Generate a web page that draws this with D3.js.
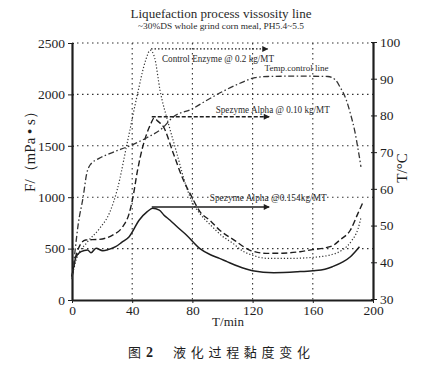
<!DOCTYPE html>
<html><head><meta charset="utf-8">
<script src="https://cdn.jsdelivr.net/npm/d3@7"></script>
<style>
html,body{margin:0;padding:0;background:#fff;}
svg{display:block;font-family:"Liberation Serif","DejaVu Serif",serif;}
</style></head>
<body><svg id="c" width="436" height="368"></svg>
<script>
// ---- data ----
const timeTicks = [0, 40, 80, 120, 160, 200];
const viscTicks = [0, 500, 1000, 1500, 2000, 2500];
const tempTicks = [30, 40, 50, 60, 70, 80, 90, 100];

const controlT = [0, 3, 10, 18, 25, 30, 37, 43.6, 49, 52, 55, 58.5, 64, 69.6, 76, 80, 85, 92, 100, 107, 113, 120, 130, 145, 160, 172, 180, 186, 190, 192];
const controlV = [230, 400, 560, 690, 850, 1070, 1550, 2010, 2335, 2430, 2350, 2040, 1720, 1430, 1100, 950, 840, 730, 620, 550, 480, 435, 405, 405, 415, 440, 490, 580, 690, 800];

const alpha10T = [0, 3, 9, 18, 27, 33.7, 38, 40.5, 43.6, 47, 49, 52.5, 54.5, 57, 60.7, 67.3, 74, 79.5, 85, 92, 98, 108, 118, 129, 140, 151.5, 160, 169, 174, 178, 185, 190, 193.5];
const alpha10V = [230, 450, 584, 590, 632, 713, 843, 1000, 1265, 1491, 1589, 1719, 1770, 1740, 1686, 1427, 1167, 1005, 859, 770, 681, 580, 486, 454, 455, 470, 490, 510, 535, 584, 681, 843, 956];

const alpha154T = [0, 2.7, 6, 10.4, 12.6, 16, 20.4, 24, 29, 33, 38, 44.7, 50, 53.6, 58, 61, 65, 70, 76, 85, 92, 98, 103, 110, 120, 134, 150, 160, 168, 173, 180, 185, 191];
const alpha154V = [227, 421, 470, 486, 460, 503, 480, 490, 519, 560, 616, 778, 859, 892, 875, 827, 778, 710, 632, 500, 440, 405, 373, 330, 285, 266, 275, 285, 300, 324, 370, 421, 518];

const tempT = [0, 2, 4, 7.5, 9.7, 12, 18, 25, 40, 50, 60, 67, 80, 89, 100, 113, 121.6, 130, 150, 170, 175, 178, 182, 185, 188, 190, 192];
const tempC = [35.4, 43, 50, 58, 64, 66.5, 68.3, 69.6, 72, 74, 76.5, 79.5, 81.8, 84, 86.5, 89, 90.3, 90.6, 90.7, 90.6, 89.7, 87.8, 84.5, 80.5, 75.5, 71, 66];

// annotation arrows [t0, t1, v]
const controlArrow = [52.5, 130, 2442];
const alpha10Arrow = [53, 131, 1783];
const alpha154Arrow = [53, 131, 905];

const titleText = "Liquefaction process vissosity line";
const subtitleText = "~30%DS whole grind corn meal, PH5.4~5.5";
const labels = [
  {text: "Control Enzyme @ 0.2 kg/MT", t: 59.8, v: 2312, len: 112, size: 10},
  {text: "Temp.control line", t: 128, v: 2230, len: 64, size: 8.5},
  {text: "Spezyme Alpha @ 0.10 kg/MT", t: 95.5, v: 1822, len: 114, size: 10},
  {text: "Spezyme Alpha @0.154kg/MT", t: 91.5, v: 966, len: 117, size: 10}
];

// ---- chart ----
const svg = d3.select("#c");
const ink = "#1e1e1e";
const serif = "Liberation Serif";
const x = d3.scaleLinear().domain([0, 200]).range([72, 373]);
const yL = d3.scaleLinear().domain([0, 2500]).range([300, 43]);
const yR = d3.scaleLinear().domain([30, 100]).range([299, 42]);

// grid
const grid = svg.append("g").attr("stroke", "#333").attr("stroke-width", 1.1).attr("stroke-dasharray", "1.5,3.5");
viscTicks.filter(d => d > 0).forEach(v => {
  grid.append("line").attr("x1", x(0)).attr("x2", x(200)).attr("y1", yL(v)).attr("y2", yL(v));
});
timeTicks.filter(d => d > 0 && d < 200).forEach(t => {
  grid.append("line").attr("x1", x(t)).attr("x2", x(t)).attr("y1", yL(2500)).attr("y2", yL(0));
});

// axes
const fmt = d3.format("d");
const axL = svg.append("g").attr("transform", `translate(${x(0)},0)`)
  .call(d3.axisLeft(yL).tickValues(viscTicks).tickFormat(fmt).tickSize(4).tickSizeOuter(0).tickPadding(3));
const axB = svg.append("g").attr("transform", `translate(0,${yL(0)})`)
  .call(d3.axisBottom(x).tickValues(timeTicks).tickFormat(fmt).tickSize(3).tickSizeOuter(0).tickPadding(2));
const axR = svg.append("g").attr("transform", `translate(${x(200)},0)`)
  .call(d3.axisRight(yR).tickValues(tempTicks).tickFormat(fmt).tickSize(4).tickSizeOuter(0).tickPadding(3));
[axL, axB, axR].forEach(a => {
  a.attr("font-family", serif).attr("font-size", 13.5);
  a.select(".domain").attr("stroke", ink).attr("stroke-width", 2.2);
  a.selectAll(".tick line").attr("stroke", ink).attr("stroke-width", 1);
  a.selectAll("text").attr("fill", ink).style("font-family", '"Liberation Serif", serif');
});
axL.selectAll(".tick line").attr("x2", -4).attr("x1", 2);
axR.selectAll(".tick line").attr("x1", -2).attr("x2", 4);

// lines
function drawLine(ts, vs, yScale, dash, w, color) {
  const pts = ts.map((t, i) => [t, vs[i]]);
  svg.append("path").datum(pts)
    .attr("fill", "none").attr("stroke", color).attr("stroke-width", w)
    .attr("stroke-dasharray", dash)
    .attr("d", d3.line().x(d => x(d[0])).y(d => yScale(d[1])).curve(d3.curveMonotoneX));
}
drawLine(controlT, controlV, yL, "1.2,2", 1.2, "#333");
drawLine(alpha10T, alpha10V, yL, "6,3", 1.4, ink);
drawLine(alpha154T, alpha154V, yL, null, 1.5, ink);
drawLine(tempT, tempC, yR, "6,2.5,1.5,2.5", 1.3, "#333");

// arrows
const defs = svg.append("defs");
defs.append("marker").attr("id", "ah").attr("viewBox", "0 0 10 10").attr("refX", 9).attr("refY", 5)
  .attr("markerWidth", 7).attr("markerHeight", 6).attr("markerUnits", "userSpaceOnUse").attr("orient", "auto")
  .append("path").attr("d", "M0,0 L10,5 L0,10 Z").attr("fill", ink);
function arrow(a, dash, w) {
  svg.append("line").attr("x1", x(a[0])).attr("x2", x(a[1])).attr("y1", yL(a[2])).attr("y2", yL(a[2]))
    .attr("stroke", ink).attr("stroke-width", w).attr("stroke-dasharray", dash).attr("marker-end", "url(#ah)");
}
arrow(controlArrow, "1.5,2", 1.3);
arrow(alpha10Arrow, "4,2", 1.6);
arrow(alpha154Arrow, null, 1.5);

// labels
labels.forEach(l => {
  svg.append("text").attr("x", x(l.t)).attr("y", yL(l.v)).text(l.text)
    .attr("fill", "#2a2a2a").style("font-size", l.size + "px")
    .attr("textLength", l.len).attr("lengthAdjust", "spacingAndGlyphs");
});

// titles
svg.append("text").attr("x", 221).attr("y", 18).attr("text-anchor", "middle").text(titleText)
  .attr("fill", "#2a2a2a").style("font-size", "13px").attr("textLength", 181).attr("lengthAdjust", "spacingAndGlyphs");
svg.append("text").attr("x", 221).attr("y", 28.5).attr("text-anchor", "middle").text(subtitleText)
  .attr("fill", "#2a2a2a").style("font-size", "9px").attr("textLength", 166).attr("lengthAdjust", "spacingAndGlyphs");

// axis titles
svg.append("text").attr("transform", "translate(35,148) rotate(-90)").attr("text-anchor", "middle")
  .text("F/（mPa • s）").attr("fill", ink).style("font-size", "15px");
svg.append("text").attr("transform", "translate(407,168) rotate(-90)").attr("text-anchor", "middle")
  .text("T/°C").attr("fill", ink).style("font-size", "15px");
svg.append("text").attr("x", 228).attr("y", 326).attr("text-anchor", "middle")
  .text("T/min").attr("fill", ink).style("font-size", "13px");

// caption
svg.append("text").attr("x", 128).attr("y", 357).text("图")
  .attr("fill", ink).style("font-size", "13px").style("font-family", "Noto Sans CJK SC");
svg.append("text").attr("x", 146).attr("y", 357).text("2")
  .attr("fill", ink).style("font-size", "14px").style("font-weight", "bold");
svg.append("text").attr("x", 173).attr("y", 357).text("液化过程黏度变化")
  .attr("fill", ink).style("font-size", "13px").style("font-family", "Noto Sans CJK SC")
  .attr("textLength", 137).attr("lengthAdjust", "spacing");
</script></body></html>
